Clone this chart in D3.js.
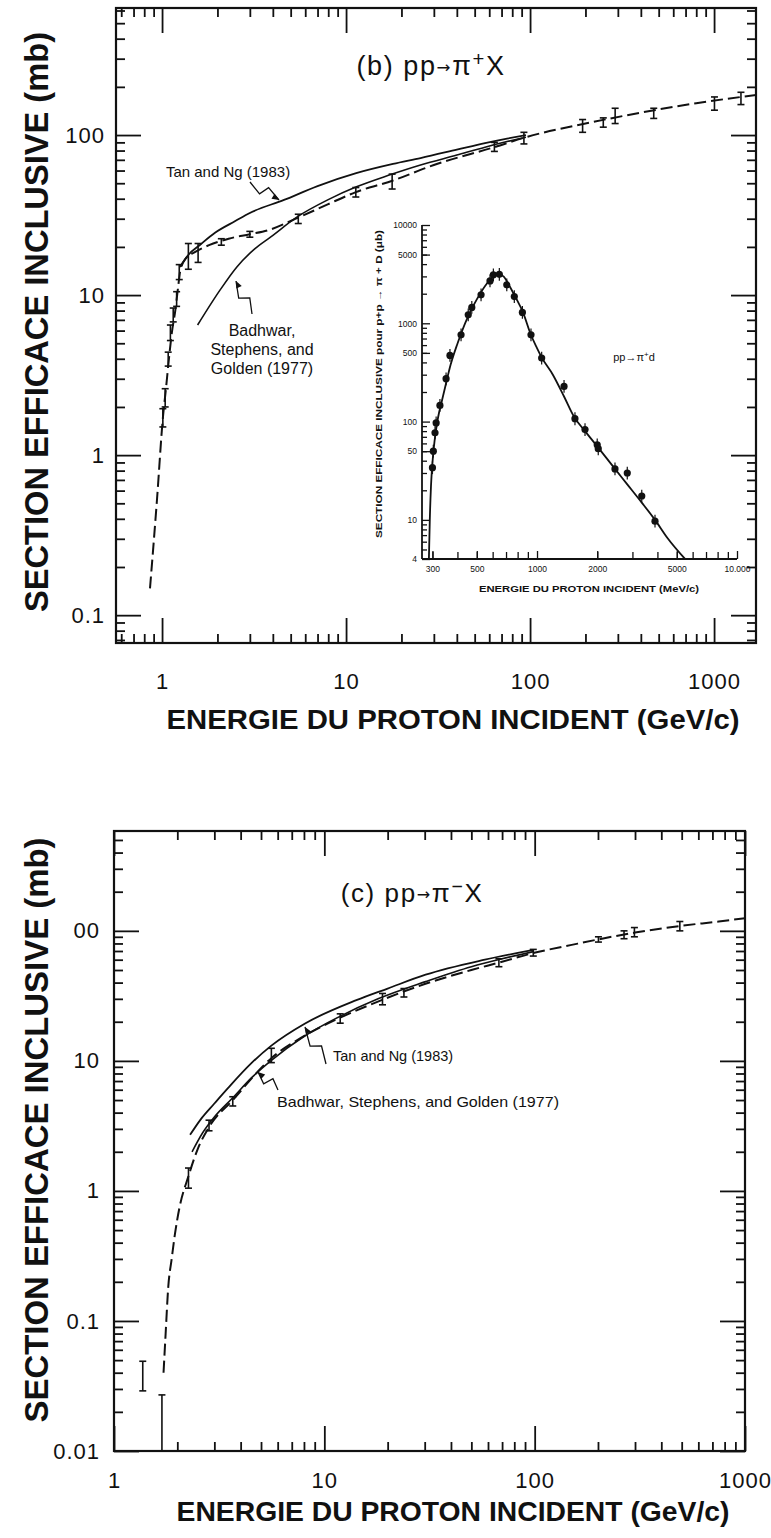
<!DOCTYPE html>
<html><head><meta charset="utf-8">
<script src="https://cdn.jsdelivr.net/npm/d3@7"></script>
<style>
body{margin:0;background:#fff;}
svg{display:block;}
text{font-family:"Liberation Sans",Arial,Helvetica,sans-serif;fill:#111;}
</style>
</head><body>
<svg id="c" width="771" height="1538"></svg>
<script>
// ================= DATA =================
// ---- Panel (b) pp -> pi+ X ----
const bXMajor = [1, 10, 100, 1000];
const bXLabels = ["1", "10", "100", "1000"];
const bYMajor = [0.1, 1, 10, 100];
const bYLabels = ["0.1", "1", "10", "100"];
const bFitE = [0.86, 0.94, 1.01, 1.05, 1.09, 1.13, 1.18, 1.22, 1.26, 1.35, 1.5, 1.8, 2.3, 3.0, 3.8, 5.5, 8, 11.3, 18, 30, 64, 95, 200, 400, 800, 1700];
const bFitS = [0.147, 0.54, 1.7, 2.6, 4.0, 5.8, 8.0, 11, 14.5, 17, 18.5, 20.5, 22.5, 24, 25.5, 30.5, 37, 44, 52, 65, 84, 97, 118, 138, 158, 178];
const bTanE = [1.25, 1.4, 1.6, 1.94, 2.5, 3.0, 4.6, 7, 11.35, 18, 25.4, 40, 56.9, 75, 95];
const bTanS = [15, 18, 20.5, 24.5, 29, 32.6, 39.3, 48, 57.8, 66, 71.8, 81, 89, 95, 100];
const bBadE = [1.56, 2.06, 2.55, 3.2, 3.9, 5.4, 8, 11.3, 17, 25.4, 40, 56.9, 75, 95];
const bBadS = [6.5, 10.7, 15, 19.5, 23.1, 30.7, 39.5, 47.3, 56, 65, 75, 84, 91, 97];
const bErrE  = [1.01, 1.04, 1.08, 1.11, 1.15, 1.2, 1.24, 1.39, 1.57, 2.1, 3.0, 5.5, 11.3, 17.8, 64, 92.6, 193, 250, 290, 470, 1005, 1400];
const bErrLo = [1.5, 2.0, 3.6, 5.2, 6.8, 8.5, 12.5, 14.5, 16, 20.5, 23, 28, 41, 46, 79, 88, 104, 112, 118, 127, 143, 155];
const bErrHi = [1.95, 2.6, 4.4, 6.5, 8.3, 10.5, 15.5, 21, 21, 22.5, 25, 32, 47, 57, 90, 104, 125, 128, 147, 147, 173, 185];

// ---- Inset pp -> pi+ d ----
const iXMajor = [300, 500, 1000, 2000, 5000, 10000];
const iXLabels = ["300", "500", "1000", "2000", "5000", "10.000"];
const iYMajor = [4, 10, 50, 100, 500, 1000, 5000, 10000];
const iYLabels = ["4", "10", "50", "100", "500", "1000", "5000", "10000"];
const iCurveE = [288, 291, 295, 300, 305, 312, 320, 335, 350, 370, 400, 450, 500, 550, 600, 640, 680, 720, 780, 850, 933, 1000, 1055, 1200, 1365, 1531, 1738, 2000, 2454, 2827, 3340, 3890, 4500, 5500];
const iCurveV = [4, 10, 22, 38, 55, 80, 110, 165, 240, 380, 620, 1150, 1750, 2400, 2950, 3150, 3000, 2500, 1850, 1300, 760, 560, 450, 300, 180, 112, 80, 56, 33, 23, 15, 10, 6.5, 4];
const iPtE = [300, 303, 309, 313, 327, 351, 367, 417, 453, 472, 525, 582, 605, 648, 706, 770, 845, 933, 1055, 1365, 1548, 1738, 2000, 2024, 2454, 2827, 3340, 3890];
const iPtV = [34, 50, 77, 97, 146, 273, 471, 764, 1220, 1450, 1950, 2700, 3110, 3150, 2460, 1870, 1290, 764, 443, 228, 107, 83, 58, 53, 33, 30, 17.5, 9.7];

// ---- Panel (c) pp -> pi- X ----
const cXMajor = [1, 10, 100, 1000];
const cXLabels = ["1", "10", "100", "1000"];
const cYMajor = [0.01, 0.1, 1, 10, 100];
const cYLabels = ["0.01", "0.1", "1", "10", "00"];
const cFitE = [1.72, 1.76, 1.81, 1.88, 1.95, 2.05, 2.26, 2.5, 2.83, 3.67, 5.6, 8, 11.9, 18.9, 30, 50, 67.6, 98.5, 150, 201, 300, 490, 750, 1000];
const cFitS = [0.04, 0.08, 0.18, 0.3, 0.47, 0.75, 1.3, 2.1, 3.1, 5.0, 10.5, 15.5, 21.5, 29.5, 39, 50, 57, 67.5, 78, 86, 97, 109, 118, 125];
const cTanE = [2.3, 2.6, 3.0, 3.49, 4.5, 5.6, 8.1, 14.2, 20, 30.3, 58, 98.6];
const cTanS = [2.7, 3.6, 4.7, 6.2, 9.6, 13.1, 19.4, 29.3, 36, 46, 60, 71.4];
const cBadE = [2.35, 2.64, 3.0, 3.67, 4.5, 5.6, 8, 11.8, 18, 30.3, 50, 70, 98.6];
const cBadS = [2.0, 2.8, 3.7, 5.2, 7.4, 10.1, 15.4, 21.9, 30, 40.7, 53, 61, 69.3];
const cErrE  = [1.37, 1.69, 2.26, 2.83, 3.67, 5.6, 11.9, 18.9, 23.9, 67.6, 98.5, 201, 266, 298, 490];
const cErrLo = [0.029, 0.01, 1.05, 2.9, 4.5, 9.7, 19.5, 27, 31, 53, 64, 82, 87, 90, 100];
const cErrHi = [0.049, 0.027, 1.5, 3.5, 5.3, 12.5, 23, 33, 36, 61, 72, 90, 100, 106, 118];

// ================= DRAW =================
const svg = d3.select("#c");
const FONT = '"Liberation Sans",Arial,Helvetica,sans-serif';

function minorTicks(lo, hi) {
  const out = [];
  for (let d = Math.floor(Math.log10(lo)); d <= Math.ceil(Math.log10(hi)); d++) {
    for (let k = 2; k <= 9; k++) {
      const v = k * Math.pow(10, d);
      if (v > lo * 1.0001 && v < hi * 0.9999) out.push(v);
    }
  }
  return out;
}

function axisSet(g, x, y, o) {
  const [xl, xr] = x.range(), [yb, yt] = y.range();
  const xd = x.domain(), yd = y.domain();
  const xMin = minorTicks(xd[0], xd[1]), yMin = minorTicks(yd[0], yd[1]);
  const defs = [
    [d3.axisBottom, `translate(0,${yb})`, x, o.xMajor, o.xLabels, o.xPad],
    [d3.axisTop, `translate(0,${yt})`, x, o.xMajor, null, 0],
    [d3.axisLeft, `translate(${xl},0)`, y, o.yMajor, o.yLabels, o.yPad],
    [d3.axisRight, `translate(${xr},0)`, y, o.yMajor, null, 0]
  ];
  defs.forEach(([fn, tr, sc, maj, labs, pad]) => {
    const isX = sc === x;
    const mins = (isX ? xMin : yMin);
    const ga = g.append("g").attr("transform", tr)
      .call(fn(sc).tickValues(mins).tickSize(-o.minorLen).tickSizeOuter(0).tickFormat(""));
    ga.select(".domain").remove();
    const gb = g.append("g").attr("transform", tr)
      .call(fn(sc).tickValues(maj).tickSize(-o.majorLen).tickSizeOuter(0).tickPadding(pad)
        .tickFormat(labs ? ((d, i) => labs[i]) : ""));
    gb.select(".domain").remove();
    gb.selectAll("text").attr("font-family", FONT).attr("font-size", o.labelSize)
      .attr("letter-spacing", 1).attr("fill", "#111");
    [ga, gb].forEach(a => a.selectAll("line").attr("stroke", "#111").attr("stroke-width", o.tickW));
  });
  g.append("rect").attr("x", xl).attr("y", yt).attr("width", xr - xl).attr("height", yb - yt)
    .attr("fill", "none").attr("stroke", "#111").attr("stroke-width", o.frameW);
}

function zig(g, x0, y0, x1, y1) {
  const dx = x1 - x0, dy = y1 - y0, L = Math.hypot(dx, dy);
  const px = -dy / L, py = dx / L;
  const pts = [[x0, y0],
    [x0 + dx * 0.42 + px * 5, y0 + dy * 0.42 + py * 5],
    [x0 + dx * 0.55 - px * 5, y0 + dy * 0.55 - py * 5],
    [x1, y1]];
  g.append("path").attr("d", d3.line()(pts)).attr("fill", "none").attr("stroke", "#111").attr("stroke-width", 1.3);
  const ux = dx / L, uy = dy / L, ah = 7, aw = 3;
  g.append("path").attr("d",
    `M${x1},${y1}L${x1 - ux * ah + px * aw},${y1 - uy * ah + py * aw}L${x1 - ux * ah - px * aw},${y1 - uy * ah - py * aw}Z`)
    .attr("fill", "#111");
}

function errBars(g, x, y, E, lo, hi, cap, w) {
  const gg = g.append("g").attr("stroke", "#111").attr("stroke-width", w);
  E.forEach((e, i) => {
    gg.append("line").attr("x1", x(e)).attr("x2", x(e)).attr("y1", y(lo[i])).attr("y2", y(hi[i]));
    gg.append("line").attr("x1", x(e) - cap).attr("x2", x(e) + cap).attr("y1", y(lo[i])).attr("y2", y(lo[i]));
    gg.append("line").attr("x1", x(e) - cap).attr("x2", x(e) + cap).attr("y1", y(hi[i])).attr("y2", y(hi[i]));
  });
}

function curve(g, x, y, E, S, dash, w) {
  const line = d3.line().x(d => x(d[0])).y(d => y(d[1])).curve(d3.curveMonotoneX);
  g.append("path").attr("d", line(E.map((e, i) => [e, S[i]])))
    .attr("fill", "none").attr("stroke", "#111").attr("stroke-width", w)
    .attr("stroke-dasharray", dash || null);
}

function reaction(g, x, y, size, label, sign, final) {
  g.append("text").attr("x", x).attr("y", y).attr("text-anchor", "middle").attr("font-size", size)
    .attr("letter-spacing", 1.6)
    .html(`${label} pp<tspan font-family="DejaVu Sans" font-size="${size * 0.62}" dy="-2">\u2192</tspan>` +
      `<tspan dy="2">\u03c0</tspan><tspan dy="${-size * 0.34}" font-size="${size * 0.75}">${sign}</tspan>` +
      `<tspan dy="${size * 0.34}">${final}</tspan>`);
}

// ---------- Panel (b) ----------
{
  const x = d3.scaleLog().domain([0.562, 1690]).range([116, 756]);
  const y = d3.scaleLog().domain([0.067, 622]).range([643, 8]);
  const g = svg.append("g");
  g.append("clipPath").attr("id", "clipB").append("rect").attr("x", 116).attr("y", 8).attr("width", 640).attr("height", 635);
  const gp = g.append("g").attr("clip-path", "url(#clipB)");
  curve(gp, x, y, bFitE, bFitS, "12,5", 2);
  curve(gp, x, y, bTanE, bTanS, null, 1.8);
  curve(gp, x, y, bBadE, bBadS, null, 1.6);
  errBars(gp, x, y, bErrE, bErrLo, bErrHi, 3.5, 1.6);
  axisSet(g, x, y, {xMajor: bXMajor, xLabels: bXLabels, yMajor: bYMajor, yLabels: bYLabels,
    xPad: 30, yPad: 11, majorLen: 25, minorLen: 9, labelSize: 22, tickW: 1.8, frameW: 2.2});

  reaction(g, 431, 75, 27, "(b)", "+", "X");
  g.append("text").attr("x", 228).attr("y", 177).attr("text-anchor", "middle").attr("font-size", 15).text("Tan and Ng (1983)");
  zig(g, 250, 182, 279, 200);
  ["Badhwar,", "Stephens, and", "Golden (1977)"].forEach((t, i) =>
    g.append("text").attr("x", 262).attr("y", 336 + i * 19).attr("text-anchor", "middle").attr("font-size", 16).text(t));
  zig(g, 252, 314, 236, 281);

  g.append("text").attr("transform", "translate(48,322) rotate(-90)").attr("text-anchor", "middle")
    .attr("font-size", 33).attr("font-weight", "bold").attr("textLength", 580).attr("lengthAdjust", "spacingAndGlyphs")
    .text("SECTION EFFICACE INCLUSIVE (mb)");
  g.append("text").attr("x", 453).attr("y", 729).attr("text-anchor", "middle")
    .attr("font-size", 28).attr("font-weight", "bold").attr("textLength", 573).attr("lengthAdjust", "spacingAndGlyphs")
    .text("ENERGIE DU PROTON INCIDENT (GeV/c)");
}

// ---------- Inset ----------
{
  const x = d3.scaleLog().domain([266, 10000]).range([422, 737]);
  const y = d3.scaleLog().domain([4, 10000]).range([559, 225]);
  const g = svg.append("g");
  const xMin = minorTicks(300, 10000);
  const yMin = minorTicks(4, 10000);
  const ax = g.append("g").attr("transform", "translate(0,559)")
    .call(d3.axisBottom(x).tickValues(xMin.concat([300])).tickSize(-7).tickSizeOuter(0).tickFormat(""));
  ax.select(".domain").remove();
  const axL = g.append("g").attr("transform", "translate(0,559)")
    .call(d3.axisBottom(x).tickValues(iXMajor).tickSize(-8).tickSizeOuter(0).tickPadding(7).tickFormat((d, i) => iXLabels[i]));
  axL.select(".domain").remove();
  const ay = g.append("g").attr("transform", "translate(422,0)")
    .call(d3.axisLeft(y).tickValues(yMin).tickSize(-5).tickSizeOuter(0).tickFormat(""));
  ay.select(".domain").remove();
  const ayL = g.append("g").attr("transform", "translate(422,0)")
    .call(d3.axisLeft(y).tickValues(iYMajor).tickSize(-8).tickSizeOuter(0).tickPadding(5).tickFormat((d, i) => iYLabels[i]));
  ayL.select(".domain").remove();
  g.selectAll("line").attr("stroke", "#111").attr("stroke-width", 1.3);
  g.selectAll("text").attr("font-family", FONT).attr("font-size", 8.5).attr("fill", "#222");
  g.append("line").attr("x1", 422).attr("x2", 737).attr("y1", 559).attr("y2", 559).attr("stroke", "#111").attr("stroke-width", 1.8);
  g.append("line").attr("x1", 422).attr("x2", 422).attr("y1", 225).attr("y2", 559).attr("stroke", "#111").attr("stroke-width", 1.8);

  g.append("clipPath").attr("id", "clipI").append("rect").attr("x", 422).attr("y", 225).attr("width", 315).attr("height", 334);
  const gp = g.append("g").attr("clip-path", "url(#clipI)");
  curve(gp, x, y, iCurveE, iCurveV, null, 1.8);
  const pe = gp.append("g");
  iPtE.forEach((e, i) => {
    pe.append("line").attr("x1", x(e)).attr("x2", x(e)).attr("y1", y(iPtV[i] * 0.86)).attr("y2", y(iPtV[i] * 1.16))
      .attr("stroke", "#111").attr("stroke-width", 1.2);
    pe.append("circle").attr("cx", x(e)).attr("cy", y(iPtV[i])).attr("r", 3.6).attr("fill", "#111");
  });

  g.append("text").attr("transform", "translate(382,384) rotate(-90)").attr("text-anchor", "middle")
    .attr("font-size", 9).attr("font-weight", "bold").attr("textLength", 308).attr("lengthAdjust", "spacingAndGlyphs")
    .attr("font-family", FONT).text("SECTION EFFICACE INCLUSIVE pour p+p \u2192 \u03c0 + D (\u03bcb)");
  g.append("text").attr("x", 589).attr("y", 592).attr("text-anchor", "middle")
    .attr("font-size", 9.5).attr("font-weight", "bold").attr("textLength", 220).attr("lengthAdjust", "spacingAndGlyphs")
    .attr("font-family", FONT).text("ENERGIE DU PROTON INCIDENT (MeV/c)");
  g.append("text").attr("x", 634).attr("y", 361).attr("text-anchor", "middle")
    .attr("font-family", '"Liberation Serif","Times New Roman",serif').attr("font-size", 11)
    .html('pp\u2192\u03c0<tspan dy="-4" font-size="8">+</tspan><tspan dy="4">d</tspan>');
}

// ---------- Panel (c) ----------
{
  const x = d3.scaleLog().domain([1, 1000]).range([114, 745]);
  const y = d3.scaleLog().domain([0.01, 586]).range([1451, 831]);
  const g = svg.append("g");
  g.append("clipPath").attr("id", "clipC").append("rect").attr("x", 114).attr("y", 831).attr("width", 631).attr("height", 620);
  const gp = g.append("g").attr("clip-path", "url(#clipC)");
  curve(gp, x, y, cFitE, cFitS, "12,5", 2);
  curve(gp, x, y, cTanE, cTanS, null, 1.8);
  curve(gp, x, y, cBadE, cBadS, null, 1.6);
  errBars(gp, x, y, cErrE, cErrLo, cErrHi, 3.5, 1.6);
  axisSet(g, x, y, {xMajor: cXMajor, xLabels: cXLabels, yMajor: cYMajor, yLabels: cYLabels,
    xPad: 21, yPad: 14, majorLen: 25, minorLen: 9, labelSize: 22, tickW: 1.8, frameW: 2.2});

  reaction(g, 412, 902, 26, "(c)", "\u2212", "X");
  g.append("text").attr("x", 333).attr("y", 1061).attr("font-size", 14.5).text("Tan and Ng (1983)");
  zig(g, 326, 1064, 305, 1027);
  g.append("text").attr("x", 277).attr("y", 1107).attr("font-size", 14.5).attr("textLength", 282).attr("lengthAdjust", "spacingAndGlyphs")
    .text("Badhwar, Stephens, and Golden (1977)");
  zig(g, 278, 1090, 258, 1072);

  g.append("text").attr("transform", "translate(48,1130) rotate(-90)").attr("text-anchor", "middle")
    .attr("font-size", 33).attr("font-weight", "bold").attr("textLength", 585).attr("lengthAdjust", "spacingAndGlyphs")
    .text("SECTION EFFICACE INCLUSIVE (mb)");
  g.append("text").attr("x", 453).attr("y", 1521).attr("text-anchor", "middle")
    .attr("font-size", 28).attr("font-weight", "bold").attr("textLength", 553).attr("lengthAdjust", "spacingAndGlyphs")
    .text("ENERGIE DU PROTON INCIDENT (GeV/c)");
}
</script>
</body></html>
